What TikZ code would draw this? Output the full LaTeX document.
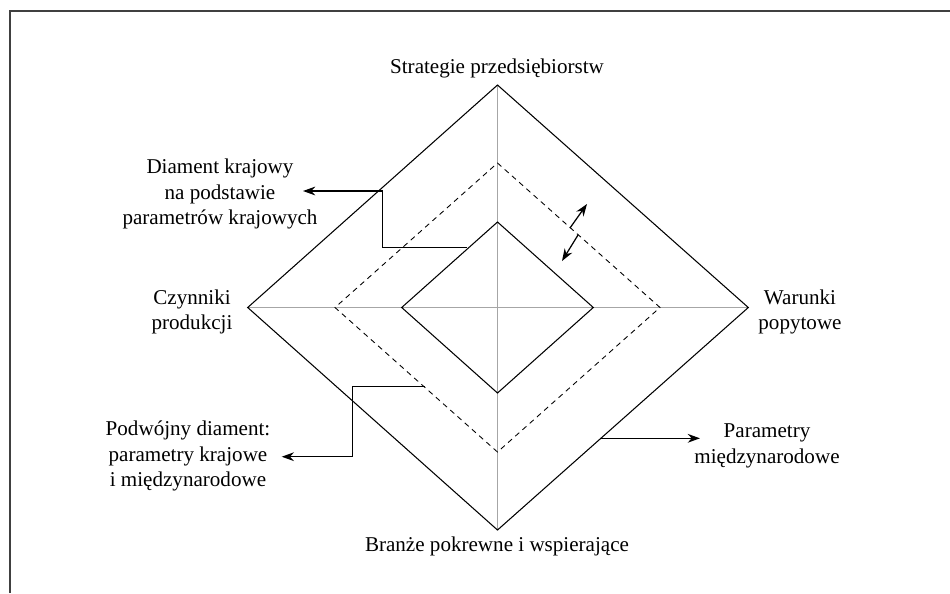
\documentclass[tikz,border=0pt]{standalone}
\usepackage{fontspec}
\setmainfont{Liberation Serif}
\usetikzlibrary{arrows.meta}

\begin{document}
\begin{tikzpicture}[x=0.02cm, y=-0.02cm, line width=0.6pt,
    lbl/.style={font=\fontsize{12}{14.5}\selectfont, align=center, inner sep=0pt},
    axisline/.style={draw=black!35, line width=0.5pt},
    dashline/.style={dash pattern=on 3pt off 2.5pt, line width=0.5pt},
    conn/.style={-{Stealth[length=7pt,width=5pt]}, line width=0.7pt}]
    \useasboundingbox (0,0) rectangle (950,593);
    \draw[line width=1pt, black!75] (10,593) -- (10,11) -- (950,11);

    \coordinate(ot) at (497.5, 85);
    \coordinate(or) at (748.3,307.5);
    \coordinate(ob) at (497.5,530);
    \coordinate(ol) at (247.7,307.5);
    \coordinate(dt) at (497.5,163);
    \coordinate(dr) at (660,  307.5);
    \coordinate(db) at (497.5,452);
    \coordinate(dl) at (335,  307.5);
    \coordinate(it) at (497.5,222);
    \coordinate(ir) at (593.3,307.5);
    \coordinate(ib) at (497.5,393);
    \coordinate(il) at (401.7,307.5);

    \node[lbl](strat) at (497, 68) {Strategie przedsiębiorstw};
    \node[lbl](branze) at (497,546) {Branże pokrewne i wspierające};
    \node[lbl](czyn) at (192,312) {Czynniki\\produkcji};
    \node[lbl](war) at (800,312) {Warunki\\popytowe};
    \node[lbl](krajowy) at (220,194) {Diament krajowy\\na podstawie\\parametrów krajowych};
    \node[lbl](podwojny) at (188,456) {Podwójny diament:\\parametry krajowe\\i międzynarodowe};
    \node[lbl](miedzy) at (767,446) {Parametry\\międzynarodowe};

    \draw[axisline] (ot) -- (ob) (ol) -- (or);
    \draw (ot) -- (or) -- (ob) -- (ol) -- cycle;
    \draw[dashline] (dt) -- (dr) -- (db) -- (dl) -- cycle;
    \draw (it) -- (ir) -- (ib) -- (il) -- cycle;

    \coordinate(s1) at (467,247.7);
    \coordinate(k1) at (382.7,247.7);
    \coordinate(e1) at (303,191);
    \coordinate(s2) at (425,386.7);
    \coordinate(k2) at (352.3,386.7);
    \coordinate(e2) at (281.7,456.7);
    \coordinate(s3) at (600,438.3);
    \coordinate(e3) at (700,438.3);
    \coordinate(u1) at (570,228);
    \coordinate(u2) at (587,204);
    \coordinate(v1) at (578,235);
    \coordinate(v2) at (562,261);

    \draw[conn] (s1) -- (k1) |- (e1);
    \draw[conn] (s2) -- (k2) |- (e2);
    \draw[conn] (s3) -- (e3);
    \draw[conn] (u1) -- (u2);
    \draw[conn] (v1) -- (v2);
\end{tikzpicture}
\end{document}
